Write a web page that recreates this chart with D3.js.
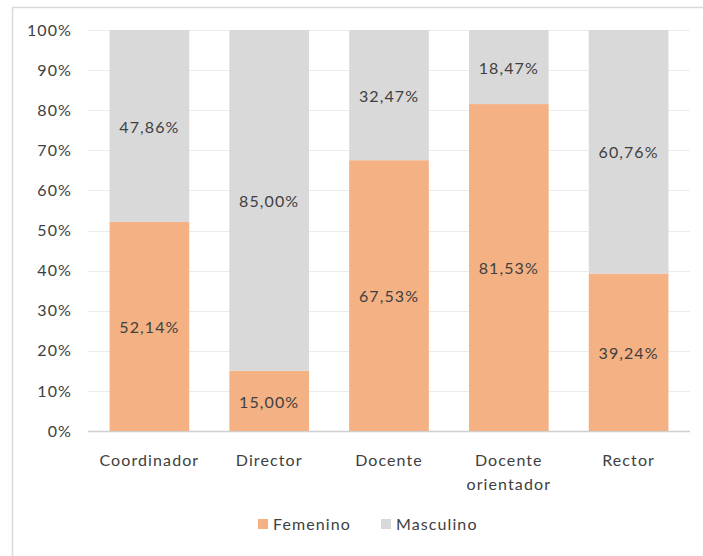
<!DOCTYPE html>
<html>
<head>
  <meta charset="utf-8">
  <title>Femenino / Masculino por cargo</title>
  <script src="https://d3js.org/d3.v7.min.js"></script>
  <style>
    body { margin: 0; background: #fff; }
    text { font-family: Lato, "Open Sans", sans-serif; fill: #404040; letter-spacing: 1.1px; }
  </style>
</head>
<body>
  <svg width="703" height="556"></svg>
  <script>
    // data
    var categories = ["Coordinador", "Director", "Docente", "Docente\norientador", "Rector"];
    var femenino = [52.14, 15.00, 67.53, 81.53, 39.24];
    var masculino = [47.86, 85.00, 32.47, 18.47, 60.76];
    var seriesNames = ["Femenino", "Masculino"];
    var colors = ["#F4B183", "#D9D9D9"];
    var yTicks = [0, 10, 20, 30, 40, 50, 60, 70, 80, 90, 100];

    var svg = d3.select("svg");

    // chart frame (left + top edges visible)
    svg.append("path")
      .attr("d", "M12.5,556 V7.5 H703")
      .attr("fill", "none")
      .attr("stroke", "#d9d9d9")
      .attr("stroke-width", 1.5);

    // plot area (note: "top" is reserved on window, so use other names)
    var plotL = 88, plotR = 690, plotT = 30, plotB = 431;

    var x = d3.scaleBand()
      .domain(categories)
      .range([plotL, plotR])
      .paddingInner(0.335)
      .paddingOuter(0.18);

    var y = d3.scaleLinear()
      .domain([0, 100])
      .range([plotB, plotT]);

    // gridlines
    svg.append("g")
      .selectAll("line")
      .data(yTicks)
      .enter()
      .append("line")
      .attr("x1", plotL)
      .attr("x2", plotR)
      .attr("y1", function(d) { return Math.round(y(d)) + 0.5; })
      .attr("y2", function(d) { return Math.round(y(d)) + 0.5; })
      .attr("stroke", function(d) { return d === 0 ? "#d0d0d0" : "#ececec"; })
      .attr("stroke-width", function(d) { return d === 0 ? 1.5 : 1; });

    // y axis labels
    var yAxis = d3.axisLeft(y)
      .tickValues(yTicks)
      .tickFormat(function(d) { return d + "%"; })
      .tickSize(0)
      .tickPadding(16);
    var gy = svg.append("g")
      .attr("transform", "translate(" + plotL + ",0)")
      .call(yAxis);
    gy.select(".domain").remove();
    gy.selectAll("text")
      .attr("font-family", null)
      .style("font-size", "16px")
      .attr("fill", "#404040");

    // stacked data
    var rows = categories.map(function(c, i) {
      return { cat: c, Femenino: femenino[i], Masculino: masculino[i] };
    });
    var stack = d3.stack().keys(seriesNames)(rows);

    var layers = svg.append("g")
      .selectAll("g")
      .data(stack)
      .enter()
      .append("g")
      .attr("fill", function(d, i) { return colors[i]; });

    layers.selectAll("rect")
      .data(function(d) { return d; })
      .enter()
      .append("rect")
      .attr("x", function(d) { return x(d.data.cat); })
      .attr("width", x.bandwidth())
      .attr("y", function(d) { return y(d[1]); })
      .attr("height", function(d) { return y(d[0]) - y(d[1]); });

    // value labels
    layers.selectAll("text")
      .data(function(d) { return d; })
      .enter()
      .append("text")
      .attr("x", function(d) { return x(d.data.cat) + x.bandwidth() / 2; })
      .attr("y", function(d) { return y((d[0] + d[1]) / 2) + 1; })
      .attr("dy", "0.35em")
      .attr("text-anchor", "middle")
      .style("font-size", "16px")
      .attr("fill", "#404040")
      .text(function(d) { return (d[1] - d[0]).toFixed(2).replace(".", ",") + "%"; });

    // category labels
    var xl = svg.append("g")
      .selectAll("text")
      .data(categories)
      .enter()
      .append("text")
      .attr("x", function(d) { return x(d) + x.bandwidth() / 2; })
      .attr("y", 466)
      .attr("text-anchor", "middle")
      .style("font-size", "16px")
      .attr("fill", "#404040");
    xl.selectAll("tspan")
      .data(function(d) { return d.split("\n"); })
      .enter()
      .append("tspan")
      .attr("x", function() { return d3.select(this.parentNode).attr("x"); })
      .attr("dy", function(d, i) { return i === 0 ? 0 : 24; })
      .text(function(d) { return d; });

    // legend
    var legendX = [258, 381];
    var legend = svg.append("g")
      .selectAll("g")
      .data(seriesNames)
      .enter()
      .append("g")
      .attr("transform", function(d, i) { return "translate(" + legendX[i] + ",519)"; });
    legend.append("rect")
      .attr("width", 10)
      .attr("height", 10)
      .attr("fill", function(d, i) { return colors[i]; });
    legend.append("text")
      .attr("x", 15)
      .attr("y", 5)
      .attr("dy", "0.35em")
      .style("font-size", "16px")
      .attr("fill", "#404040")
      .text(function(d) { return d; });
  </script>
</body>
</html>
